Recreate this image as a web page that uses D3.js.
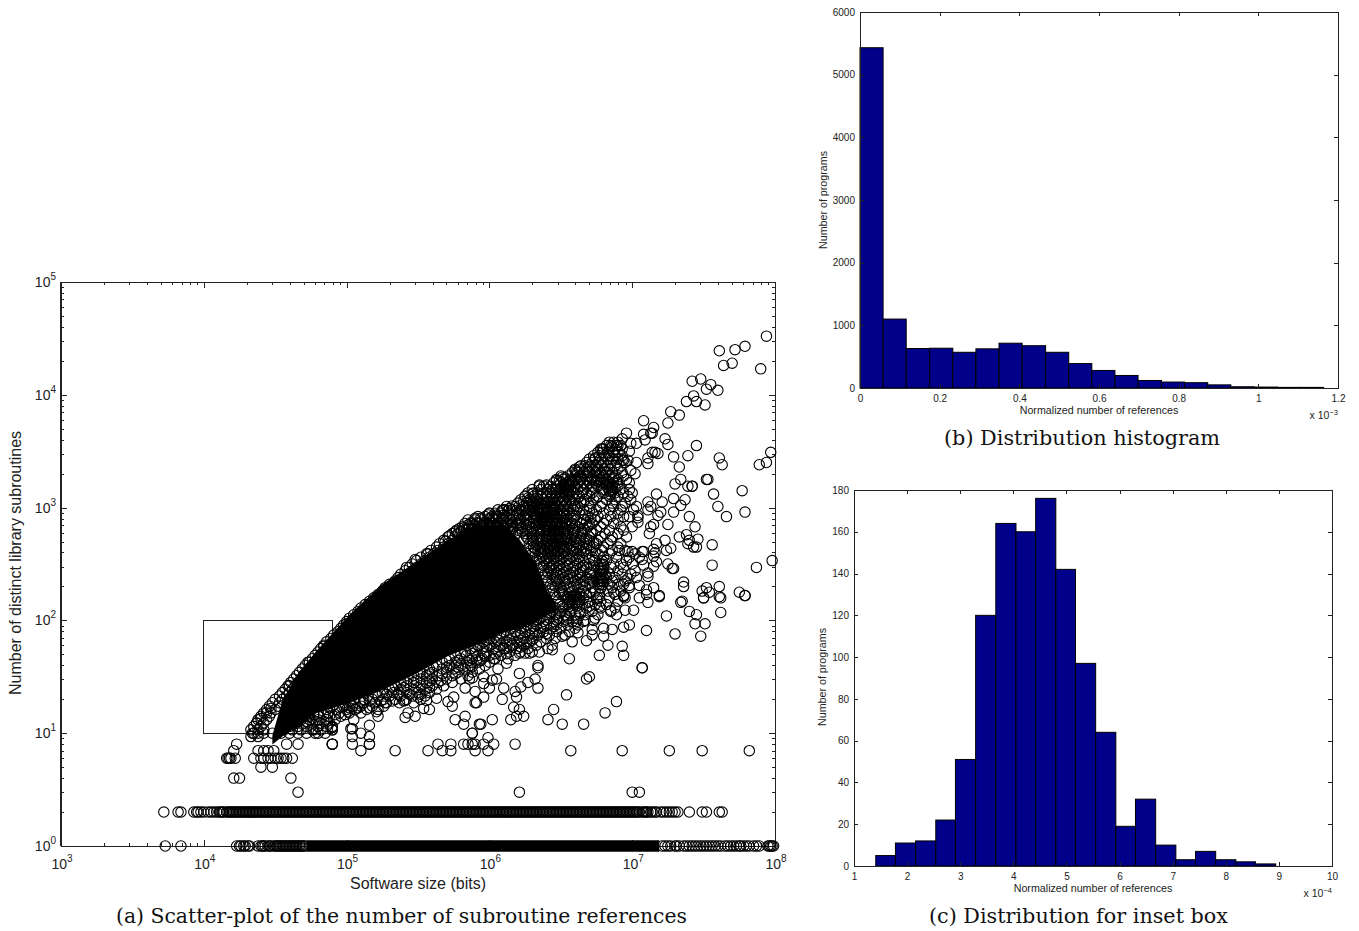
<!DOCTYPE html>
<html>
<head>
<meta charset="utf-8">
<title>Subroutine references</title>
<style>
body { margin: 0; background: #fff; }
svg { display: block; }
text { font-family: "Liberation Sans", sans-serif; fill: #222; }
.caption { font-family: "DejaVu Serif", serif; font-size: 20px; fill: #111; }
.axis path, .axis line { stroke: #222; fill: none; shape-rendering: crispEdges; }
</style>
</head>
<body>
<script src="https://d3js.org/d3.v7.min.js"></script>
<script>
// (b) histogram, x in units of 1e-3
var histBEdges = [0,0.058,0.116,0.175,0.233,0.291,0.349,0.407,0.466,0.524,0.582,0.640,0.698,0.757,0.815,0.873,0.931,0.989,1.048,1.106,1.164];
var histBCounts = [5430,1100,630,635,570,625,715,675,570,390,280,200,120,95,85,50,20,15,10,10];
var histBXTicks = [0,0.2,0.4,0.6,0.8,1,1.2];
var histBYTicks = [0,1000,2000,3000,4000,5000,6000];

// (c) histogram, x in units of 1e-4
var histCEdges = [1.03,1.41,1.78,2.16,2.54,2.91,3.29,3.67,4.05,4.42,4.80,5.17,5.55,5.93,6.30,6.68,7.06,7.43,7.81,8.19,8.56,8.94,9.32,9.69,10];
var histCCounts = [0,5,11,12,22,51,120,164,160,176,142,97,64,19,32,10,3,7,3,2,1,0,0,0];
var histCXTicks = [1,2,3,4,5,6,7,8,9,10];
var histCYTicks = [0,20,40,60,80,100,120,140,160,180];

// (a) scatter values are log10(size), log10(count)
var insetBox = {x0: 1e4, x1: 8e4, y0: 10, y1: 100};

// where overplotted circles merge into solid ink
var inkX = [4.48,4.55,4.67,4.79,5.02,5.25,5.49,5.72,5.91,6.10,6.21,6.33,6.41,6.47];
var inkTop = [0.98,1.29,1.55,1.73,2.05,2.32,2.52,2.72,2.83,2.85,2.72,2.50,2.25,2.15];
var inkBottom = [0.90,0.97,1.07,1.18,1.27,1.38,1.53,1.69,1.78,1.89,1.93,1.99,2.05,2.08];
var oneRowInkX = [4.72,7.19];

var rowOneX = [3.73,3.84,4.23,4.25,4.26,4.28,4.29,4.31,4.32,4.38,4.40,4.41,4.42,4.43,4.45,4.46,4.47,4.49,4.50,4.51,4.52,4.53,4.54,4.55,4.56,4.57,4.58,4.59,4.60,4.61,4.62,4.63,4.64,4.65,4.66,4.67,4.68,4.69,4.70,4.71,
  7.21,7.23,7.25,7.27,7.30,7.31,7.33,7.36,7.38,7.40,7.42,7.44,7.46,7.48,7.50,7.52,7.54,7.56,7.58,7.60,7.62,7.65,7.67,7.69,7.71,7.73,7.75,7.76,7.78,7.80,7.82,7.85,7.87,7.89,7.95,7.96,7.97,7.98,7.99];

var rowTwoX = [3.72,3.82,3.84,3.93,3.95,3.96,3.98,4.00,4.03,4.05,4.07,4.09,4.11,4.12,4.14,4.16,4.18,4.20,4.21,4.23,4.26,4.27,4.29,4.31,4.33,4.35,4.38,4.40,4.41,4.43,4.46,4.48,4.50,4.53,4.54,4.56,4.59,4.61,4.63,4.66,4.68,4.70,4.73,4.75,4.78,4.80,4.82,4.85,4.87,4.90,4.93,4.95,4.97,5.00,5.02,5.05,5.08,5.09,5.12,5.15,5.17,5.19,5.22,5.25,5.27,5.30,5.34,5.36,5.38,5.42,5.45,5.47,5.50,5.52,5.56,5.59,5.61,5.64,5.67,5.70,5.72,5.75,5.77,5.80,5.83,5.85,5.88,5.91,5.93,5.96,5.98,6.01,6.04,6.06,6.09,6.12,6.14,6.17,6.20,6.22,6.25,6.28,6.31,6.33,6.36,6.38,6.41,6.44,6.46,6.49,6.52,6.54,6.57,6.60,6.62,6.65,6.67,6.69,6.72,6.74,6.76,6.78,6.80,6.83,6.85,6.88,6.90,6.92,6.95,6.97,7.00,7.02,7.04,7.07,7.09,7.11,7.13,7.16,7.17,7.20,7.22,7.24,7.26,7.28,7.30,7.32,7.40,7.49,7.52,7.61,7.63,
  4.13,4.17,4.19,4.22,4.24,4.25,4.28,4.30,4.32,4.34,4.36,4.37,4.39,4.42,4.44,4.45,4.47,4.49,4.51,4.52,4.55,4.57,4.58,4.60,4.62,4.64,4.65,4.67,4.69,4.71,4.72,4.74,4.76,4.77,4.79,4.81,4.83,4.84,4.86,4.88,4.89,4.91,4.92,4.94,4.96,4.98,4.99,5.01,5.03,5.04,5.06,5.07,5.10,5.11,5.13,5.14,5.16,5.18,5.20,5.21,5.23,5.24,5.26,5.28,5.29,5.31,5.32,5.33,5.35,5.37,5.39,5.40,5.41,5.43,5.44,5.46,5.48,5.49,5.51,5.53,5.54,5.55,5.57,5.58,5.60,5.62,5.63,5.65,5.66,5.68,5.69,5.71,5.73,5.74,5.76,5.78,5.79,5.81,5.82,5.84,5.86,5.87,5.89,5.90,5.92,5.94,5.95,5.97,5.99,6.00,6.02,6.03,6.05,6.07,6.08,6.10,6.11,6.13,6.15,6.16,6.18,6.19,6.21,6.23,6.24,6.26,6.27,6.29,6.30,6.32,6.34,6.35,6.37,6.39,6.40,6.42,6.43,6.45,6.47,6.48,6.50,6.51,6.53,6.55,6.56,6.58,6.59,6.61,6.63,6.64,6.66,6.68,6.70,6.71,6.73,6.75,6.77,6.79,6.81,6.82,6.84,6.86,6.87,6.89,6.91,6.93,6.94,6.96,6.98,6.99,7.01,7.03,7.05,7.08,7.10,7.14];

// small integer counts: [count, log10 sizes]
var countRows = [
  [3, [4.66,6.21,7.00,7.05]],
  [4, [4.21,4.25,4.61]],
  [5, [4.40,4.48]],
  [6, [4.16,4.17,4.18,4.19,4.22,4.35,4.40,4.42,4.45,4.47,4.50,4.52,4.54,4.56,4.58,4.62]],
  [7, [4.21,4.38,4.42,4.45,4.49,5.10,5.34,5.57,5.67,5.73,5.90,5.99,6.57,6.93,7.26,7.49,7.82]],
  [8, [4.23,4.58,4.66,4.90,4.90,4.90,5.04,5.16,5.16,5.64,5.73,5.82,5.85,5.88,5.90,5.96,6.03,6.18]]
];

var loosePoints = [[7.94,4.52],[7.61,4.39],[7.72,4.40],[7.79,4.43],[7.64,4.26],[7.70,4.28],[7.90,4.23],[7.42,4.12],[7.48,4.14],[7.55,4.09],[7.52,4.05],[7.60,4.04],[7.43,3.99],[7.38,3.94],[7.45,3.94],[7.51,3.91],[7.27,3.85],[7.33,3.82],[7.25,3.75],[7.08,3.77],[7.15,3.71],[7.08,3.65],[7.13,3.66],[7.14,3.66],[7.09,3.60],[6.96,3.66],[6.93,3.61],[7.23,3.61],[7.25,3.56],[7.45,3.55],[6.99,3.57],[7.03,3.57],[6.98,3.50],[7.16,3.49],[7.18,3.48],[7.14,3.49],[7.39,3.46],[7.29,3.45],[7.61,3.44],[7.63,3.38],[7.97,3.49],[7.94,3.40],[7.89,3.38],[7.11,3.39],[7.11,3.44],[6.93,3.42],[6.97,3.42],[7.03,3.40],[6.94,3.42],[7.33,3.36],[6.99,3.33],[7.02,3.30],[7.34,3.25],[7.30,3.21],[7.39,3.19],[7.42,3.19],[7.42,3.19],[7.52,3.25],[7.53,3.25],[7.57,3.12],[7.77,3.15],[7.60,3.01],[7.66,2.92],[7.79,2.96],[7.17,3.12],[7.21,3.05],[7.29,3.08],[7.37,3.07],[7.34,3.02],[7.29,2.96],[7.40,2.92],[7.44,2.83],[7.25,2.85],[7.03,3.01],[7.11,3.05],[7.11,2.98],[7.13,3.01],[7.18,2.93],[7.20,2.96],[6.98,2.92],[7.04,2.93],[7.04,2.91],[7.04,2.87],[7.13,2.83],[7.15,2.85],[7.12,2.77],[7.23,2.71],[7.33,2.74],[7.38,2.76],[7.40,2.71],[7.46,2.72],[7.39,2.68],[7.43,2.65],[7.45,2.65],[7.56,2.67],[7.56,2.49],[7.87,2.47],[7.98,2.53],[6.91,2.62],[6.97,2.61],[7.00,2.61],[7.07,2.61],[7.08,2.61],[7.17,2.68],[7.15,2.63],[7.16,2.60],[7.15,2.57],[7.24,2.62],[7.27,2.64],[7.07,2.54],[7.08,2.49],[7.17,2.52],[7.15,2.48],[7.25,2.50],[7.29,2.46],[7.28,2.46],[7.11,2.42],[7.11,2.39],[7.36,2.34],[7.36,2.30],[6.97,2.37],[6.98,2.31],[7.05,2.31],[7.10,2.27],[7.15,2.29],[6.94,2.32],[7.61,2.30],[7.52,2.29],[7.49,2.26],[7.54,2.25],[7.75,2.25],[7.79,2.22],[7.62,2.20],[7.50,2.20],[7.19,2.22],[7.10,2.23],[6.94,2.22],[6.87,2.25],[7.35,2.17],
[5.88,1],[5.99,.96],[5.94,1.08],[6.02,1.12],[6.15,1.12],[6.19,1.15],[6.24,1.15],[6.17,1.23],[6.21,1.21],[6.41,1.12],[6.51,1.08],[6.66,1.08],[6.81,1.18],[6.89,1.28],[6.45,1.21],[6.54,1.34],[6.68,1.48],[6.70,1.50],[7.07,1.58],[7.07,1.58],[6.34,1.40],[6.32,1.48],[6.27,1.45],[6.21,1.53],[6.22,1.41],[6.18,1.37],[6.09,1.30],[6.10,1.40],[6.19,1.32],[6.94,1.69],[6.93,1.77],[6.77,1.69],[6.56,1.66],[6.83,1.78],[6.68,1.82],[6.58,1.81],[6.51,1.86],[7.30,1.88],[7.48,1.86],[7.10,1.91],[7.44,1.97],[7.51,1.97],[7.62,2.07],[7.45,2.05],[7.40,2.08],[7.24,2.04],[7.34,2.16],[7.50,2.20],[7.61,2.21],[7.79,2.22],[6.98,1.96],[6.94,1.94],[6.86,1.92],[6.80,1.93],[6.72,1.92],[6.73,2.0],[6.67,2.0],[6.61,1.99],[6.62,1.89],[6.72,1.87],[6.80,1.86],[6.89,2.05],[6.95,2.09],[7.01,2.09],[6.85,2.09],[7.11,2.16],[7.05,2.20],[7.19,2.21],[6.94,2.21],[6.77,2.12],[6.69,2.16],[6.75,2.19],[6.54,2.04],[6.45,1.97],[6.35,1.89],[6.34,1.60],[6.34,1.58],[6.35,1.72],[6.44,1.74],[6.41,1.75],[6.28,1.71],[6.25,1.71],[6.21,1.71],[6.26,1.81],[6.16,1.78],[6.10,1.75],[6.12,1.62],[6.06,1.57],[6.03,1.66],[5.97,1.68],[5.91,1.65],[5.88,1.59],[5.96,1.50],[6.02,1.47],[6.05,1.48],[6.00,1.40],[5.96,1.44],[5.90,1.37],[5.96,1.32],[5.91,1.27],[5.88,1.49],
[5.04,.97],[5.04,1.04],[5.03,1.04],[5.10,1.0],[5.16,.97],[5.16,1.07],[5.05,1.12],[5.76,1.12],[5.83,1.15],[5.82,1.08],[5.88,1.0],[5.93,1.08],[5.41,1.14],[5.43,1.18],[5.48,1.15],[5.54,1.22],[5.58,1.21],[5.22,1.15],[5.21,1.19],[5.27,1.27],[5.06,1.21],[5.01,1.19],[4.90,1.03],[4.90,1.05],[4.80,1.0],[4.77,1.03],[4.35,1.0],[4.33,.97],[4.38,.97],[4.37,1.09],[4.40,1.13],[4.44,1.18],[4.47,1.22],[4.60,1.42],[4.73,1.63],[4.84,1.77],[5.00,1.97],[5.13,2.11],[5.20,2.18],[5.41,1.29],[5.50,1.32],[5.56,1.29],[5.63,1.31],[5.71,1.28],[5.74,1.24],[5.75,1.32],[5.86,1.48],[5.90,1.27],[5.83,1.40],
[6.60,3.33],[6.63,3.36],[6.69,3.36],[6.74,3.44],[6.79,3.52],[6.86,3.54],[6.90,3.55],[6.35,3.20],[6.40,3.20],[6.47,3.24],[6.51,3.27],[6.58,3.23],[6.25,3.10],[6.31,3.13],[6.00,2.95],[6.10,2.98],[6.14,2.99],[5.82,2.82],[5.88,2.81],[5.95,2.84],[5.72,2.75],[5.69,2.70],[5.57,2.59],[5.48,2.54],[5.42,2.47]];

// denser part, one log10 count per row: [log10 count, log10 sizes]
var meshRows = [
[3.58,[6.84,6.87,6.90]],[3.55,[6.82,6.85,6.89,6.92]],[3.52,[6.78,6.80,6.84,6.88,6.93]],[3.49,[6.76,6.79,6.83,6.87,6.90]],[3.46,[6.73,6.77,6.81,6.84,6.88,6.93]],[3.43,[6.70,6.74,6.78,6.83,6.86,6.90]],[3.40,[6.68,6.72,6.76,6.80,6.85,6.89,6.95]],[3.37,[6.64,6.67,6.71,6.75,6.79,6.83,6.88,6.92]],[3.34,[6.60,6.63,6.68,6.72,6.76,6.80,6.84,6.90]],[3.31,[6.58,6.62,6.66,6.70,6.75,6.78,6.82,6.86,6.93]],[3.28,[6.50,6.55,6.60,6.64,6.69,6.73,6.77,6.80,6.84,6.88,6.94]],[3.25,[6.47,6.52,6.57,6.60,6.64,6.68,6.72,6.76,6.78,6.82,6.86,6.90,6.96]],[3.22,[6.45,6.50,6.54,6.58,6.62,6.66,6.70,6.74,6.78,6.80,6.84,6.87,6.90,6.98]],[3.19,[6.35,6.38,6.43,6.48,6.52,6.56,6.60,6.64,6.68,6.72,6.76,6.82,6.86,6.90]],[3.16,[6.30,6.36,6.41,6.44,6.47,6.50,6.53,6.57,6.62,6.66,6.72,6.80,6.86,6.92,6.98]],[3.13,[6.27,6.34,6.40,6.43,6.46,6.49,6.52,6.55,6.59,6.65,6.72,6.80,6.88,6.94,7.00]],
[3.10,[6.25,6.31,6.36,6.40,6.44,6.47,6.50,6.54,6.58,6.63,6.70,6.76,6.84,6.90,6.97]],[3.07,[6.22,6.28,6.34,6.38,6.42,6.45,6.48,6.52,6.56,6.60,6.67,6.73,6.82,6.88,6.99]],[3.04,[6.20,6.26,6.32,6.36,6.40,6.43,6.46,6.50,6.54,6.58,6.64,6.71,6.79,6.86,6.95]],[3.01,[6.12,6.18,6.24,6.30,6.35,6.39,6.42,6.45,6.48,6.52,6.57,6.62,6.70,6.78,6.87,6.93]],[2.98,[6.06,6.10,6.16,6.22,6.28,6.34,6.37,6.40,6.43,6.46,6.49,6.55,6.61,6.66,6.75,6.84,6.92,7.01]],[2.95,[6.00,6.04,6.08,6.14,6.20,6.26,6.31,6.36,6.40,6.44,6.47,6.51,6.56,6.63,6.72,6.80,6.90]],[2.92,[5.92,5.97,6.02,6.06,6.12,6.18,6.24,6.29,6.34,6.38,6.42,6.46,6.50,6.54,6.60,6.69,6.76,6.85,6.94]],[2.89,[5.85,5.90,5.95,6.00,6.05,6.10,6.15,6.22,6.27,6.33,6.37,6.41,6.45,6.49,6.55,6.61,6.66,6.74,6.82,6.90]],[2.86,[5.83,5.88,5.93,5.98,6.03,6.08,6.13,6.19,6.25,6.31,6.36,6.40,6.44,6.48,6.53,6.58,6.64,6.72,6.80,6.87]],[2.83,[5.81,5.86,5.90,5.96,6.01,6.06,6.11,6.17,6.23,6.29,6.35,6.39,6.43,6.47,6.51,6.56,6.62,6.69,6.78,6.92,7.00]],[2.80,[5.77,5.82,5.87,5.92,5.98,6.03,6.08,6.14,6.20,6.27,6.33,6.38,6.42,6.46,6.50,6.55,6.60,6.67,6.75,6.84,6.94]],[2.77,[5.74,5.78,5.84,5.90,5.95,6.00,6.06,6.12,6.19,6.25,6.31,6.36,6.41,6.45,6.49,6.54,6.59,6.65,6.72,6.81,6.90]],[2.74,[5.71,5.76,5.82,5.87,6.26,6.30,6.35,6.40,6.44,6.48,6.53,6.58,6.64,6.70,6.78,6.86,6.96]],[2.71,[5.68,5.74,5.80,6.24,6.30,6.36,6.40,6.44,6.48,6.52,6.57,6.63,6.70,6.76,6.85]],[2.68,[5.65,5.71,6.28,6.34,6.39,6.43,6.47,6.51,6.56,6.62,6.68,6.75,6.83,6.92]],[2.65,[5.63,5.68,6.31,6.36,6.41,6.45,6.49,6.54,6.60,6.66,6.73,6.80,6.90]],[2.62,[5.59,5.64,6.29,6.34,6.39,6.44,6.48,6.53,6.58,6.64,6.71,6.79,6.86,6.95]],[2.59,[5.56,5.61,6.30,6.36,6.41,6.46,6.50,6.55,6.62,6.68,6.76,6.84,7.02]],[2.56,[5.52,5.58,6.31,6.37,6.42,6.47,6.52,6.58,6.63,6.72,6.80,6.89,6.98,7.05]],[2.53,[5.49,5.55,6.33,6.39,6.43,6.48,6.54,6.60,6.66,6.74,6.82,6.96]],[2.50,[5.46,5.52,6.35,6.40,6.45,6.50,6.56,6.62,6.70,6.79,6.87,6.92,7.00]],[2.47,[5.44,5.49,6.36,6.42,6.47,6.52,6.58,6.64,6.68,6.76,6.85,6.94]],[2.44,[5.41,5.46,6.38,6.43,6.48,6.54,6.60,6.66,6.72,6.80,6.90,7.02]],[2.41,[5.38,5.43,6.39,6.44,6.50,6.56,6.62,6.70,6.78,6.84,6.93,6.99]],[2.38,[5.36,5.41,6.40,6.46,6.52,6.58,6.64,6.68,6.74,6.82,6.88,7.03]],[2.35,[5.34,5.38,6.41,6.47,6.53,6.60,6.66,6.72,6.79,6.86,6.95]],[2.32,[5.30,5.35,6.43,6.48,6.54,6.61,6.64,6.70,6.76,6.84,6.90]],[2.29,[5.27,5.32,6.44,6.50,6.56,6.62,6.72,6.78,6.86,6.98]],[2.26,[5.25,5.29,6.45,6.51,6.58,6.66,6.74,6.83,6.92]],[2.23,[5.22,5.26,6.46,6.52,6.60,6.68,6.77,6.88]],[2.20,[5.19,5.23,6.47,6.54,6.60,6.66,6.76,6.84,6.95]],[2.17,[5.16,5.21,6.48,6.56,6.63,6.70,6.78,6.90]],[2.14,[5.13,5.18,6.49,6.55,6.65,6.74,6.82]],[2.11,[5.10,5.15,6.46,6.52,6.58,6.68,6.78,6.88]],[2.08,[5.08,5.13,6.44,6.50,6.57,6.63,6.72,6.85]],[2.05,[5.05,5.10,6.40,6.46,6.53,6.60,6.67,6.76]],[2.02,[5.02,5.07,6.30,6.36,6.42,6.48,6.55,6.62,6.74]],[1.99,[5.00,5.05,6.26,6.32,6.38,6.45,6.52,6.58,6.66]],[1.96,[4.98,5.03,6.20,6.27,6.33,6.40,6.47,6.55,6.62]],[1.93,[4.96,5.00,6.15,6.22,6.29,6.36,6.43,6.50,6.60]],[1.90,[4.94,4.98,6.10,6.18,6.25,6.32,6.38,6.47,6.56]],[1.87,[4.91,4.96,6.05,6.12,6.20,6.28,6.34,6.42,6.53]],[1.84,[4.89,4.94,6.00,6.08,6.16,6.24,6.31,6.40,6.46]],[1.81,[4.86,4.92,5.96,6.04,6.12,6.20,6.28,6.36]],[1.78,[4.84,4.89,5.92,6.00,6.08,6.16,6.24,6.33,6.44]],[1.75,[4.82,4.87,5.87,5.95,6.03,6.11,6.19,6.27]],[1.72,[4.80,4.85,5.83,5.90,5.98,6.06,6.14,6.22,6.30]],[1.69,[4.78,4.83,5.76,5.84,5.92,6.00,6.08,6.18]],[1.66,[4.76,4.81,5.72,5.80,5.88,5.95,6.04,6.13]],[1.63,[4.74,4.79,5.67,5.76,5.84,5.92,6.00]],[1.60,[4.71,4.76,5.63,5.72,5.80,5.87,5.97]],[1.57,[4.69,4.74,5.58,5.67,5.75,5.83,5.93]],[1.54,[4.67,4.72,5.52,5.60,5.70,5.78,5.88]],[1.51,[4.65,4.70,5.47,5.56,5.64,5.74,5.85]],[1.48,[4.63,4.68,5.43,5.52,5.60,5.70,5.80]],[1.45,[4.61,4.66,5.38,5.47,5.56,5.64,5.74]],[1.42,[4.59,4.64,5.34,5.42,5.52,5.60,5.68]],[1.39,[4.57,4.62,5.30,5.38,5.47,5.55,5.63]],[1.36,[4.55,4.60,5.25,5.33,5.42,5.50,5.58]],[1.33,[4.53,4.58,5.15,5.22,5.30,5.38,5.46,5.55]],[1.30,[4.50,4.55,5.05,5.12,5.18,5.26,5.34,5.42,5.52]],[1.27,[4.48,4.53,4.98,5.06,5.12,5.20,5.28,5.37,5.47]],[1.24,[4.46,4.52,4.90,4.98,5.04,5.10,5.18,5.26]],[1.21,[4.44,4.50,4.86,4.93,5.00,5.06,5.14,5.22]],[1.18,[4.42,4.47,4.80,4.87,4.95,5.02,5.10]],[1.15,[4.40,4.46,4.74,4.80,4.88,4.96]],[1.12,[4.38,4.44,4.68,4.74,4.80,4.86,4.92]],[1.09,[4.37,4.42,4.65,4.70,4.76,4.82,4.88]],[1.06,[4.35,4.40,4.60,4.66,4.72,4.80,4.86,4.90]],[1.03,[4.33,4.38,4.42,4.56,4.62,4.68,4.76,4.82,4.90]],[1.00,[4.34,4.38,4.42,4.48,4.54,4.60,4.66,4.72,4.78,4.85]],
// tight clumps
[3.035,[6.30,6.32,6.34,6.36,6.38]],[2.995,[6.32,6.34,6.36,6.38,6.40]],[2.955,[6.34,6.36,6.38,6.41]],[2.915,[6.36,6.38,6.40,6.43,6.45]],[2.875,[6.37,6.39,6.41,6.44]],[2.835,[6.39,6.41,6.43,6.46]],[2.795,[6.40,6.42,6.44,6.47]],[2.755,[6.42,6.44,6.46]],
[3.205,[6.52,6.54,6.56,6.82,6.84,6.86]],[3.175,[6.50,6.53,6.55,6.83,6.85,6.88]],[3.145,[6.52,6.55,6.57,6.84,6.86]],[3.115,[6.54,6.56,6.85]],
[2.525,[6.79]],[2.495,[6.78,6.80]],[2.465,[6.78,6.80]],[2.435,[6.77,6.79]],[2.405,[6.77,6.79,6.81]],[2.375,[6.76,6.78,6.80]],[2.345,[6.76,6.78,6.80]],[2.315,[6.77,6.79]],[2.285,[6.78]],
[2.215,[6.55,6.57,6.59,6.61,6.63]],[2.185,[6.55,6.57,6.59,6.61,6.63]],[2.155,[6.56,6.58,6.60,6.62]],
// between the rows, the body is thicker than a single row of rings shows
[3.315,[6.61,6.69,6.74,6.81]],[3.265,[6.53,6.62,6.71,6.79,6.87]],[3.235,[6.49,6.56,6.63,6.75]],[3.125,[6.30,6.37,6.61,6.68]],[3.085,[6.27,6.33,6.62,6.75]],[3.055,[6.24,6.29,6.41,6.49,6.66]],[3.015,[6.16,6.21,6.27,6.33,6.44,6.53,6.60]],[2.975,[6.09,6.13,6.19,6.25,6.30,6.44,6.52,6.59,6.70]],[2.935,[5.99,6.05,6.10,6.16,6.21,6.26,6.32,6.48,6.52,6.58,6.67]],[2.905,[5.90,5.94,6.00,6.03,6.09,6.14,6.20,6.25,6.31,6.47,6.52,6.59,6.71]],[2.865,[5.87,5.91,5.96,6.01,6.06,6.11,6.16,6.21,6.28,6.34,6.47,6.51,6.57,6.68]],[2.845,[5.85,5.89,5.95,5.99,6.04,6.09,6.15,6.20,6.26,6.33,6.49,6.54,6.60,6.70]],[2.815,[5.79,5.85,5.88,5.94,6.00,6.05,6.10,6.16,6.22,6.30,6.35,6.48,6.53,6.58,6.66]],[2.785,[5.76,5.80,5.86,6.15,6.23,6.29,6.34,6.48,6.52,6.62,6.71]],[2.725,[6.27,6.33,6.37,6.42,6.46,6.50,6.55,6.61,6.68]],[2.695,[6.31,6.37,6.41,6.45,6.49,6.54,6.60,6.66,6.73]],[2.665,[6.33,6.38,6.43,6.47,6.52,6.57,6.63,6.70]],[2.635,[6.32,6.37,6.42,6.46,6.51,6.56,6.61,6.68]],[2.605,[6.32,6.38,6.43,6.48,6.52,6.60,6.66,6.74]],[2.545,[6.35,6.40,6.45,6.50,6.56,6.62,6.70]],[2.485,[6.38,6.44,6.49,6.55,6.60,6.66,6.73]],[2.425,[6.41,6.47,6.52,6.58,6.64,6.71]],
[2.365,[6.44,6.49,6.55,6.62,6.70]],[2.305,[6.46,6.52,6.59,6.67]],[2.245,[6.49,6.56,6.63,6.71]],[2.125,[6.51,6.56,6.61,6.70]],[2.065,[6.43,6.49,6.56,6.64]],[2.005,[6.28,6.34,6.40,6.47,6.54]],[1.945,[6.18,6.25,6.31,6.38,6.45]],[1.885,[6.08,6.15,6.22,6.30,6.40]],[1.825,[5.98,6.06,6.14,6.22,6.30]],[1.765,[5.90,5.98,6.06,6.14,6.22]],[1.705,[5.80,5.88,5.96,6.04,6.12]],[1.645,[5.70,5.78,5.86,5.94]],[1.585,[5.61,5.70,5.78,5.85]],[1.525,[5.50,5.58,5.67,5.76]],[1.465,[5.40,5.49,5.58,5.66]],[1.405,[5.32,5.40,5.50,5.58]],[1.345,[5.20,5.28,5.36,5.44,5.52]],[1.285,[5.02,5.10,5.16,5.24,5.32,5.40]],[1.225,[4.88,4.95,5.02,5.08,5.16]],[1.165,[4.77,4.84,4.92,4.99]],[1.105,[4.66,4.72,4.78,4.84]]
];

var svg = d3.select("body").append("svg").attr("width", 1359).attr("height", 931);

function label(x, y, txt, size, rot) {
  var t = svg.append("text").attr("text-anchor", "middle").attr("font-size", size).text(txt);
  if (rot) t.attr("transform", "translate(" + x + "," + y + ") rotate(-90)");
  else t.attr("x", x).attr("y", y);
  return t;
}

// draw one matlab style axis on every side, ticks pointing in
function boxAxes(g, x, y, w, h, xTicks, yTicks, tickLen, fx, fy, size) {
  g.append("g").attr("class", "axis").attr("transform", "translate(0," + h + ")")
    .call(d3.axisBottom(x).tickValues(xTicks).tickSize(-tickLen).tickSizeOuter(0).tickFormat(fx).tickPadding(tickLen + 3))
    .selectAll("text").attr("font-size", size).attr("font-family", "Liberation Sans");
  g.append("g").attr("class", "axis")
    .call(d3.axisTop(x).tickValues(xTicks).tickSize(-tickLen).tickSizeOuter(0).tickFormat(""));
  g.append("g").attr("class", "axis")
    .call(d3.axisLeft(y).tickValues(yTicks).tickSize(-tickLen).tickSizeOuter(0).tickFormat(fy).tickPadding(tickLen + 1))
    .selectAll("text").attr("font-size", size).attr("font-family", "Liberation Sans");
  g.append("g").attr("class", "axis").attr("transform", "translate(" + w + ",0)")
    .call(d3.axisRight(y).tickValues(yTicks).tickSize(-tickLen).tickSizeOuter(0).tickFormat(""));
}

function histogram(plotLeft, plotTop, w, h, xDomain, yMax, edges, counts, xTicks, yTicks, exponent) {
  var g = svg.append("g").attr("transform", "translate(" + plotLeft + "," + plotTop + ")");
  var x = d3.scaleLinear().domain(xDomain).range([0, w]);
  var y = d3.scaleLinear().domain([0, yMax]).range([h, 0]);

  g.selectAll("rect").data(counts).enter().append("rect")
    .attr("x", function(d, i) { return x(edges[i]); })
    .attr("width", function(d, i) { return x(edges[i + 1]) - x(edges[i]); })
    .attr("y", function(d) { return y(d); })
    .attr("height", function(d) { return h - y(d); })
    .attr("fill", "#00008b")
    .attr("stroke", "#000")
    .attr("stroke-width", 1);

  boxAxes(g, x, y, w, h, xTicks, yTicks, 4, d3.format("~g"), d3.format("d"), 10);

  var ex = g.append("text").attr("x", w).attr("y", h + 31).attr("text-anchor", "end").attr("font-size", 10.5).text("x 10");
  ex.append("tspan").attr("dy", -4).attr("font-size", 7.5).text(exponent);
}

histogram(860, 12, 478, 376, [0, 1.2], 6000, histBEdges, histBCounts, histBXTicks, histBYTicks, "\u22123");
histogram(854, 490, 478, 376, [1, 10], 180, histCEdges, histCCounts, histCXTicks, histCYTicks, "\u22124");

label(1099, 414, "Normalized number of references", 10.7);
label(1093, 892, "Normalized number of references", 10.7);
label(827, 200, "Number of programs", 10.7, true);
label(826, 677, "Number of programs", 10.7, true);

// scatter
var plotLeft = 61, plotTop = 282, plotW = 714, plotH = 564;
var g = svg.append("g").attr("transform", "translate(" + plotLeft + "," + plotTop + ")");
var x = d3.scaleLog().domain([1e3, 1e8]).range([0, plotW]);
var y = d3.scaleLog().domain([1, 1e5]).range([plotH, 0]);

var xMajor = [1e3, 1e4, 1e5, 1e6, 1e7, 1e8];
var yMajor = [1, 10, 100, 1e3, 1e4, 1e5];
var minorSteps = [2, 3, 4, 5, 6, 7, 8, 9];
function minors(major) {
  var out = [];
  major.slice(0, -1).forEach(function(m) { minorSteps.forEach(function(s) { out.push(m * s); }); });
  return out;
}
boxAxes(g, x, y, plotW, plotH, minors(xMajor), minors(yMajor), 3, function() { return ""; }, function() { return ""; }, 14);
boxAxes(g, x, y, plotW, plotH, xMajor, yMajor, 6, function() { return ""; }, function() { return ""; }, 14);
g.append("line").attr("x1", 0).attr("x2", 0).attr("y1", 0).attr("y2", plotH).attr("stroke", "#222").attr("stroke-width", 2);

function powerLabel(sel, n) {
  sel.text("10").append("tspan").attr("dy", -7).attr("font-size", 10).text(n);
}
xMajor.forEach(function(v, i) {
  powerLabel(g.append("text").attr("x", x(v) + 1).attr("y", plotH + 23).attr("text-anchor", "middle").attr("font-size", 14), i + 3);
});
yMajor.forEach(function(v, i) {
  powerLabel(g.append("text").attr("x", -5).attr("y", y(v) + 5).attr("text-anchor", "end").attr("font-size", 14), i);
});

g.append("rect")
  .attr("x", x(insetBox.x0)).attr("y", y(insetBox.y1))
  .attr("width", x(insetBox.x1) - x(insetBox.x0))
  .attr("height", y(insetBox.y0) - y(insetBox.y1))
  .attr("fill", "none").attr("stroke", "#222").attr("shape-rendering", "crispEdges");

// collect the rings
var points = [];
rowOneX.forEach(function(v) { points.push([v, 0]); });
rowTwoX.forEach(function(v) { points.push([v, Math.log10(2)]); });
countRows.forEach(function(r) { r[1].forEach(function(v) { points.push([v, Math.log10(r[0])]); }); });
meshRows.forEach(function(r) { r[1].forEach(function(v) { points.push([v, r[0]]); }); });
loosePoints.forEach(function(p) { points.push(p); });

g.selectAll("circle").data(points).enter().append("circle")
  .attr("cx", function(d) { return x(Math.pow(10, d[0])); })
  .attr("cy", function(d) { return y(Math.pow(10, d[1])); })
  .attr("r", 5.2)
  .attr("fill", "none")
  .attr("stroke", "#000")
  .attr("stroke-width", 1.1);

var ink = d3.area()
  .x(function(d, i) { return x(Math.pow(10, d)); })
  .y0(function(d, i) { return y(Math.pow(10, inkBottom[i])); })
  .y1(function(d, i) { return y(Math.pow(10, inkTop[i])); });
g.append("path").datum(inkX).attr("d", ink).attr("fill", "#000");

g.append("line")
  .attr("x1", x(Math.pow(10, oneRowInkX[0]))).attr("x2", x(Math.pow(10, oneRowInkX[1])))
  .attr("y1", y(1)).attr("y2", y(1))
  .attr("stroke", "#000").attr("stroke-width", 11.4);

label(418, 889, "Software size (bits)", 16);
label(21, 563, "Number of distinct library subroutines", 16, true);

// captions
svg.append("text").attr("class", "caption").attr("x", 116).attr("y", 923).attr("textLength", 571).attr("lengthAdjust", "spacingAndGlyphs").text("(a)  Scatter-plot of the number of subroutine references");
svg.append("text").attr("class", "caption").attr("x", 944).attr("y", 445).attr("textLength", 276).attr("lengthAdjust", "spacingAndGlyphs").text("(b)  Distribution histogram");
svg.append("text").attr("class", "caption").attr("x", 929).attr("y", 923).attr("textLength", 299).attr("lengthAdjust", "spacingAndGlyphs").text("(c)  Distribution for inset box");
</script>
</body>
</html>
